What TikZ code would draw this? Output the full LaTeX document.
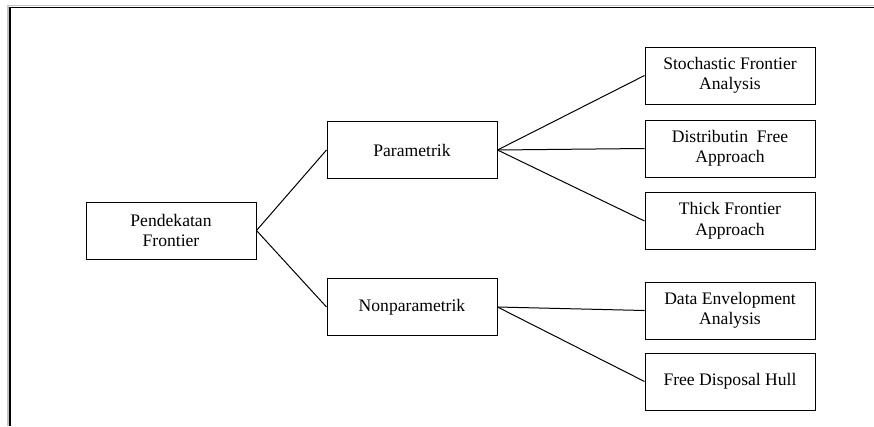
\documentclass[tikz,border=0pt]{standalone}
\usepackage{fontspec}
\setmainfont{Liberation Serif}
\usetikzlibrary{positioning}
\definecolor{framegray}{HTML}{C4C4C4}
\tikzset{
  box/.style={draw=black,line width=1pt,fill=white,align=center,inner sep=0pt,minimum width=170pt,minimum height=57pt,font=\fontsize{17.6}{20.5}\selectfont},
  link/.style={draw=black,line width=1pt},
  frameline/.style={line width=1.6pt}
}

\begin{document}
\begin{tikzpicture}[x=1pt,y=-1pt]
  \useasboundingbox (0,0) rectangle (874,426);
  % window frame
  \draw[frameline,draw=framegray] (8,426) -- (8,5.5) -- (874,5.5);
  \draw[frameline,draw=black] (9.8,426) -- (9.8,7.6) -- (874,7.6);
  % tree
  \node[box] (root) at (171,230.5) {Pendekatan\\Frontier};
  \node[box] (param) at (412,150) {Parametrik};
  \node[box] (nonparam) at (412,307) {Nonparametrik};
  \node[box] (sfa) at (730,75.5) {Stochastic Frontier\\Analysis};
  \node[box] (dfa) at (730,148.5) {Distributin\ \ Free\\Approach};
  \node[box] (tfa) at (730,221) {Thick Frontier\\Approach};
  \node[box] (dea) at (730,310.5) {Data Envelopment\\Analysis};
  \node[box] (fdh) at (730,381.5) {Free Disposal Hull};
  \draw[link] (root.east) -- (param.west);
  \draw[link] (root.east) -- (nonparam.west);
  \draw[link] (param.east) -- (sfa.west);
  \draw[link] (param.east) -- (dfa.west);
  \draw[link] (param.east) -- (tfa.west);
  \draw[link] (nonparam.east) -- (dea.west);
  \draw[link] (nonparam.east) -- (fdh.west);
\end{tikzpicture}
\end{document}
